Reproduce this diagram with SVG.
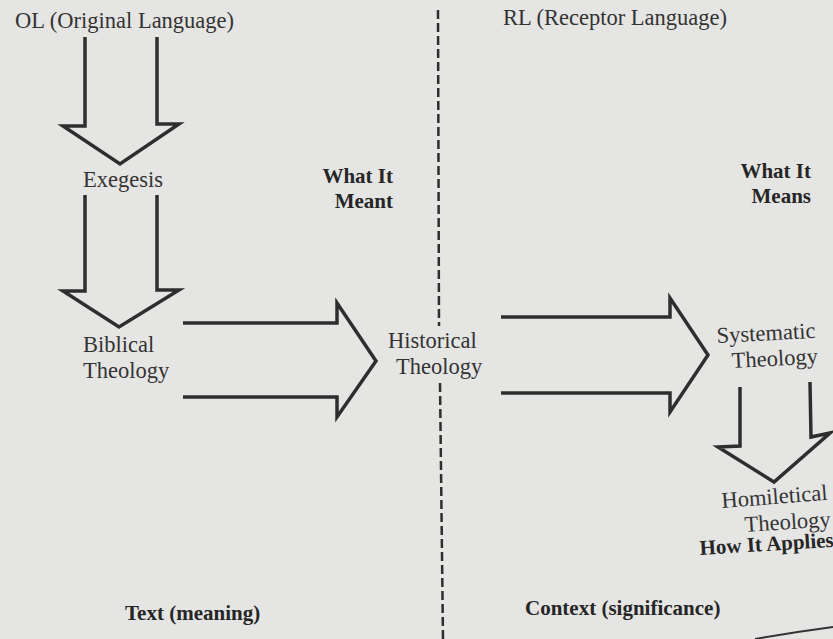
<svg xmlns="http://www.w3.org/2000/svg" width="833" height="639" viewBox="0 0 833 639">
<style>
.bg{fill:#e5e5e3}
.arrow{fill:none;stroke:#2e2e2e;stroke-width:3.5;stroke-linejoin:miter;stroke-linecap:butt}
.divider{fill:none;stroke:#2e2e2e;stroke-width:2.5;stroke-dasharray:9 4}
.t{font-family:"Liberation Serif","Times New Roman",serif;font-size:22.5px;fill:#333}
.b{font-family:"Liberation Serif","Times New Roman",serif;font-size:21px;font-weight:bold;fill:#262626}
.edge{fill:none;stroke:#333;stroke-width:2}
</style>
<rect class="bg" x="0" y="0" width="833" height="639"/>
<g id="connectors">
<polyline class="arrow" points="85,37 85,126 63,126 120,164 179,124 157,124 157,37"/>
<polyline class="arrow" points="85,195 85,291 63,291 119,327 179,290 157,290 157,195"/>
<polyline class="arrow" points="183,323 337,323 337,303 376,361 337,417 337,397 183,397"/>
<polyline class="arrow" points="501,317 670,317 670,298 708,355 670,412 670,393 501,393"/>
<polyline class="arrow" points="740,387 740,446 718,447 774,482 830,433 811,437 810,382"/>
</g>
<g id="divider">
<line class="divider" x1="438" y1="10" x2="439" y2="326"/>
<line class="divider" x1="440" y1="383" x2="443" y2="639"/>
</g>
<g id="ol-label"><text class="t" x="15" y="28">OL (Original Language)</text></g>
<g id="rl-label"><text class="t" x="503" y="25">RL (Receptor Language)</text></g>
<g id="exegesis"><text class="t" x="83" y="187">Exegesis</text></g>
<g id="what-it-meant">
<text class="b" x="393" y="183" text-anchor="end">What It</text>
<text class="b" x="393" y="208" text-anchor="end">Meant</text>
</g>
<g id="what-it-means">
<text class="b" x="811" y="178" text-anchor="end">What It</text>
<text class="b" x="811" y="203" text-anchor="end">Means</text>
</g>
<g id="biblical-theology">
<text class="t" x="83" y="352">Biblical</text>
<text class="t" x="83" y="378">Theology</text>
</g>
<g id="historical-theology">
<text class="t" x="388" y="348">Historical</text>
<text class="t" x="396" y="374">Theology</text>
</g>
<g id="systematic-theology">
<text class="t" x="717" y="343" transform="rotate(-3 717 343)">Systematic</text>
<text class="t" x="732" y="368" transform="rotate(-3 732 368)">Theology</text>
</g>
<g id="homiletical-theology">
<text class="t" x="722" y="508" transform="rotate(-4.4 722 508)">Homiletical</text>
<text class="t" x="745" y="532" transform="rotate(-3.7 745 532)">Theology</text>
<text class="b" x="700" y="555" transform="rotate(-3.5 700 555)">How It Applies</text>
</g>
<g id="text-meaning"><text class="b" x="125" y="620">Text (meaning)</text></g>
<g id="context-significance"><text class="b" x="525" y="615">Context (significance)</text></g>
<path class="edge" d="M755 639 Q795 632 833 627"/>
</svg>
